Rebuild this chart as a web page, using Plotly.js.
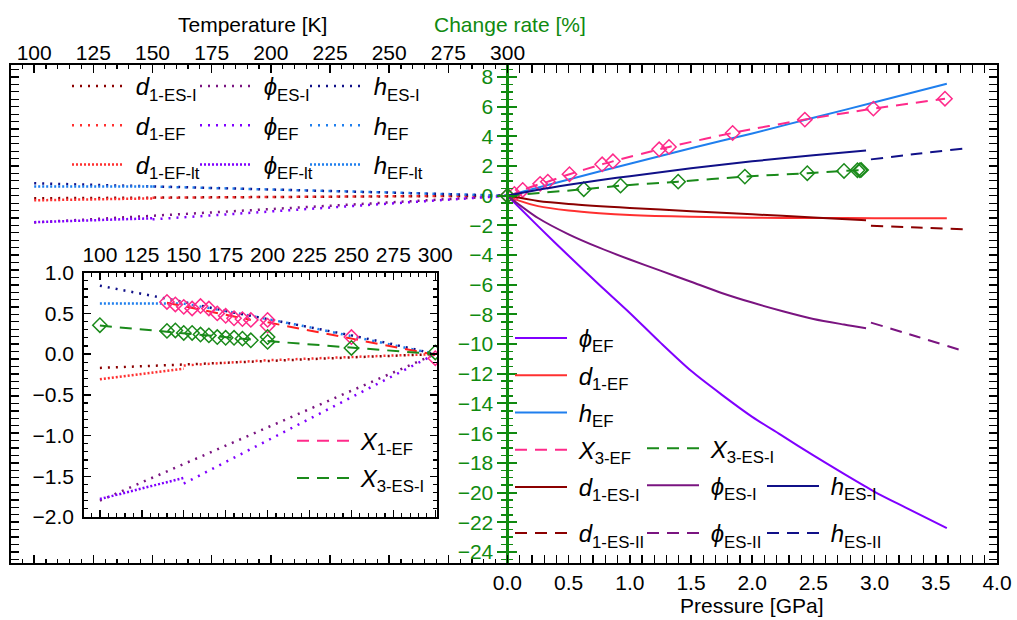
<!DOCTYPE html>
<html><head><meta charset="utf-8">
<script src="https://cdn.plot.ly/plotly-3.0.1.min.js"></script>
<style>html,body{margin:0;padding:0;background:#fff}</style>
</head><body><div id="chart" style="width:1017px;height:620px"></div>
<script>
// ===== Temperature-dependent change rates (T in K, value in %) =====
const T_d1ES1 = [100,150,200,250,300];
const V_d1ES1 = [-0.17,-0.13,-0.085,-0.04,0];
const T_d1EF = [150,200,250,300];
const V_d1EF = [-0.14,-0.075,-0.035,0];
const T_d1EFlt = [100,150];
const V_d1EFlt = [-0.31,-0.18];
const T_phiES1 = [100,150,200,250,300];
const V_phiES1 = [-1.8,-1.35,-0.9,-0.45,0];
const T_phiEF = [150,200,250,300];
const V_phiEF = [-1.59,-1.06,-0.53,0];
const T_phiEFlt = [100,150];
const V_phiEFlt = [-1.78,-1.52];
const T_hES1 = [100,125,150,175,200,225,250,275,300];
const V_hES1 = [0.84,0.74,0.64,0.53,0.43,0.33,0.23,0.12,0];
const T_hEF = [150,175,200,225,250,275,300];
const V_hEF = [0.62,0.53,0.43,0.33,0.22,0.11,0];
const T_hEFlt = [100,150];
const V_hEFlt = [0.62,0.62];
// inset markers and fits
const T_X1EF = [140,145,150,155,160,165,170,175,180,185,190,200,200,250,300];
const V_X1EF = [0.64,0.61,0.58,0.56,0.59,0.56,0.50,0.47,0.44,0.43,0.42,0.42,0.35,0.21,-0.05];
const T_X1EFfit = [140,190,null,200,300];
const V_X1EFfit = [0.63,0.42,null,0.39,-0.01];
const T_X3ES1 = [100,140,145,150,155,160,165,170,175,180,185,190,200,200,250,300];
const V_X3ES1 = [0.355,0.285,0.29,0.26,0.26,0.24,0.23,0.21,0.20,0.20,0.19,0.17,0.21,0.15,0.076,0.02];
const T_X3ES1fit = [100,190,null,200,300];
const V_X3ES1fit = [0.35,0.18,null,0.16,0.0];

// ===== Pressure-dependent change rates (P in GPa, value in %) =====
const P_phiEF = [0,0.25,0.5,0.75,1.0,1.25,1.5,1.75,2.0,2.25,2.5,2.75,3.0,3.25,3.59];
const V_phiEF_P = [0,-2.05,-4.05,-6.0,-7.9,-9.9,-11.8,-13.4,-14.9,-16.2,-17.5,-18.75,-19.95,-21.0,-22.4];
const P_d1EF = [0,0.1,0.25,0.5,0.75,1.0,1.5,2.0,2.5,3.0,3.59];
const V_d1EF_P = [0,-0.35,-0.7,-1.0,-1.18,-1.3,-1.42,-1.48,-1.5,-1.51,-1.52];
const P_hEF = [0,0.5,1.0,1.5,2.0,2.5,3.0,3.59];
const V_hEF_P = [0,1.1,2.15,3.2,4.2,5.25,6.3,7.55];
const P_X3EF = [0,0.057,0.125,0.267,0.33,0.507,0.774,0.862,1.24,1.32,1.84,2.43,2.99,3.575];
const V_X3EF = [0,0.12,0.39,0.80,0.95,1.45,2.12,2.32,3.13,3.29,4.23,5.13,5.87,6.54];
const P_X3ES1 = [0,0.624,0.924,1.395,1.94,2.45,2.75,2.86,2.88,2.89];
const V_X3ES1_P = [0,0.44,0.68,0.95,1.29,1.52,1.67,1.72,1.72,1.74];
const P_d1ES1 = [0,0.25,0.5,1.0,1.5,2.0,2.5,2.93];
const V_d1ES1_P = [0,-0.35,-0.55,-0.82,-1.04,-1.25,-1.46,-1.65];
const P_d1ES2 = [2.97,3.35,3.72];
const V_d1ES2 = [-2.02,-2.14,-2.26];
const P_phiES1 = [0,0.25,0.5,0.75,1.0,1.25,1.5,1.75,2.0,2.25,2.5,2.75,2.93];
const V_phiES1_P = [0,-1.5,-2.6,-3.5,-4.3,-5.05,-5.8,-6.55,-7.2,-7.78,-8.3,-8.68,-8.93];
const P_phiES2 = [2.97,3.35,3.72];
const V_phiES2 = [-8.55,-9.5,-10.45];
const P_hES1 = [0,0.25,0.5,0.75,1.0,1.5,2.0,2.5,2.93];
const V_hES1_P = [0,0.4,0.74,1.05,1.32,1.85,2.32,2.72,3.05];
const P_hES2 = [2.97,3.35,3.72];
const V_hES2 = [2.45,2.83,3.17];

// ===== Tick labels =====
const P_TICKS = [0,0.5,1,1.5,2,2.5,3,3.5,4];
const P_LABELS = ['0.0','0.5','1.0','1.5','2.0','2.5','3.0','3.5','4.0'];
const T_TICKS = [100,125,150,175,200,225,250,275,300];
const Y_TICKS = [-24,-22,-20,-18,-16,-14,-12,-10,-8,-6,-4,-2,0,2,4,6,8];
const YIN_TICKS = [-2,-1.5,-1,-0.5,0,0.5,1];
const YIN_LABELS = ['\u22122.0','\u22121.5','\u22121.0','\u22120.5','0.0','0.5','1.0'];

// colours
const C = {d1ES:'#8b0000', d1EF:'#ff3030', phiEF:'#8000ff', phiES:'#7a1480',
           hES:'#101088', hEF:'#1f7fee', X3EF:'#ff2a8a', X3ES:'#1a8a1a', X1fit:'#ff2020', green:'#108a10'};
const FONT = 'Liberation Sans, Arial, sans-serif';
const DOT = '2px,6px', DENSE = '2px,2px', DASH = '12px,8px';

function range(a,b,s,skip){const r=[];for(let v=a;v<=b+1e-9;v+=s){const q=Math.round(v*1000)/1000; if(!skip||Math.abs(q/skip-Math.round(q/skip))>1e-6) r.push(q);}return r;}

const traces = [];
function L(x,y,xa,ya,color,dash,width,o){
  traces.push(Object.assign({type:'scatter',mode:'lines',x:x,y:y,xaxis:xa,yaxis:ya,
    line:{color:color,dash:dash,width:width},hoverinfo:'skip',showlegend:false},o||{}));
}
function S(x,y,color,dash,o){ // smooth pressure curve
  L(x,y,'x','y',color,dash,2,o);
  traces[traces.length-1].line.shape='spline';
  traces[traces.length-1].line.smoothing=0.8;
}
function M(x,y,xa,ya,color){
  traces.push({type:'scatter',mode:'markers',x:x,y:y,xaxis:xa,yaxis:ya,hoverinfo:'skip',showlegend:false,
    marker:{symbol:'diamond-open',size:11,color:color,line:{color:color,width:1.5}}});
}
const SP = '\u00a0';
const nm = {
  d1ES1:'<i>d</i><sub>1-ES-I</sub>', d1EF:'<i>d</i><sub>1-EF</sub>', d1EFlt:'<i>d</i><sub>1-EF-lt</sub>',
  phiES1:'<i>\u03D5</i><sub>ES-I</sub>', phiEF:'<i>\u03D5</i><sub>EF</sub>', phiEFlt:'<i>\u03D5</i><sub>EF-lt</sub>',
  hES1:'<i>h</i><sub>ES-I</sub>', hEF:'<i>h</i><sub>EF</sub>', hEFlt:'<i>h</i><sub>EF-lt</sub>',
  X3EF:'<i>X</i><sub>3-EF</sub>', X3ES1:'<i>X</i><sub>3-ES-I</sub>', X1EF:'<i>X</i><sub>1-EF</sub>',
  d1ES2:'<i>d</i><sub>1-ES-II</sub>', phiES2:'<i>\u03D5</i><sub>ES-II</sub>', hES2:'<i>h</i><sub>ES-II</sub>'
};
function leg(key,legend,rank){return {name:SP+nm[key],showlegend:true,legend:legend,legendrank:rank,legendgroup:legend+key};}

// ---- main plot, temperature part (xaxis2 / y) ----
const tempSeries = [
  [T_d1ES1,V_d1ES1,C.d1ES,DOT,'d1ES1','legend',1],
  [T_d1EF,V_d1EF,C.d1EF,DOT,'d1EF','legend',2],
  [T_d1EFlt,V_d1EFlt,C.d1EF,DENSE,'d1EFlt','legend',3],
  [T_phiES1,V_phiES1,C.phiES,DOT,'phiES1','legend2',1],
  [T_phiEF,V_phiEF,C.phiEF,DOT,'phiEF','legend2',2],
  [T_phiEFlt,V_phiEFlt,C.phiEF,DENSE,'phiEFlt','legend2',3],
  [T_hES1,V_hES1,C.hES,DOT,'hES1','legend3',1],
  [T_hEF,V_hEF,C.hEF,DOT,'hEF','legend3',2],
  [T_hEFlt,V_hEFlt,C.hEF,DENSE,'hEFlt','legend3',3]
];
tempSeries.forEach(s=>L(s[0],s[1],'x2','y',s[2],s[3],2.5,leg(s[4],s[5],s[6])));
// inset copies
tempSeries.forEach(s=>L(s[0],s[1],'x3','y4',s[2],s[3],2.5));
L(T_X1EFfit,V_X1EFfit,'x3','y4',C.X1fit,DASH,2);
M(T_X1EF,V_X1EF,'x3','y4',C.X3EF);
L([null],[null],'x3','y4',C.X3EF,DASH,2,leg('X1EF','legend7',1));
L(T_X3ES1fit,V_X3ES1fit,'x3','y4',C.X3ES,DASH,2,leg('X3ES1','legend7',2));
M(T_X3ES1,V_X3ES1,'x3','y4',C.X3ES);

// ---- main plot, pressure part (x / y) ----
S(P_phiEF,V_phiEF_P,C.phiEF,'solid',leg('phiEF','legend4',1));
S(P_d1EF,V_d1EF_P,C.d1EF,'solid',leg('d1EF','legend4',2));
S(P_hEF,V_hEF_P,C.hEF,'solid',leg('hEF','legend4',3));
S(P_X3EF,V_X3EF,C.X3EF,DASH,leg('X3EF','legend4',4));
M(P_X3EF,V_X3EF,'x','y',C.X3EF);
S(P_d1ES1,V_d1ES1_P,C.d1ES,'solid',leg('d1ES1','legend4',5));
S(P_d1ES2,V_d1ES2,C.d1ES,DASH,leg('d1ES2','legend8',1));
S(P_X3ES1,V_X3ES1_P,C.X3ES,DASH,leg('X3ES1','legend5',1));
M(P_X3ES1,V_X3ES1_P,'x','y',C.X3ES);
S(P_phiES1,V_phiES1_P,C.phiES,'solid',leg('phiES1','legend5',2));
S(P_phiES2,V_phiES2,C.phiES,DASH,leg('phiES2','legend9',1));
S(P_hES1,V_hES1_P,C.hES,'solid',leg('hES1','legend6',1));
S(P_hES2,V_hES2,C.hES,DASH,leg('hES2','legend10',1));
// empty traces so the green change-rate axes are drawn
traces.push({type:'scatter',mode:'lines',x:[null],y:[null],xaxis:'x',yaxis:'y2',showlegend:false,hoverinfo:'skip'});
traces.push({type:'scatter',mode:'lines',x:[null],y:[null],xaxis:'x',yaxis:'y3',showlegend:false,hoverinfo:'skip'});

const tickFont = {family:FONT,size:21,color:'#000'};
const frame = {showline:true,linecolor:'#000',linewidth:2,mirror:'allticks',ticks:'inside',
  tickcolor:'#000',tickwidth:1.5,showgrid:false,zeroline:false};

function legendCfg(x,y,gap){return {x:x,y:y,xanchor:'left',yanchor:'top',bgcolor:'rgba(0,0,0,0)',
  font:{family:FONT,size:24,color:'#000'},traceorder:'grouped',tracegroupgap:(gap===undefined?3:gap),itemwidth:52};}

const px2x = p => (p-11)/986, px2y = p => (563-p)/498;

const layout = {
  width:1017,height:620,margin:{l:11,r:20,t:65,b:57},
  paper_bgcolor:'#fff',plot_bgcolor:'#fff',font:{family:FONT,size:21,color:'#000'},
  xaxis:Object.assign({},frame,{domain:[0,1],range:[-4.056,4.0],anchor:'y',side:'bottom',
    tickmode:'array',tickvals:P_TICKS,ticktext:P_LABELS,ticklen:8,tickfont:tickFont,
    minor:{tickmode:'array',tickvals:range(0.1,3.9,0.1,0.5),ticklen:4,ticks:'inside',tickcolor:'#000',tickwidth:1.2}}),
  xaxis2:Object.assign({},frame,{overlaying:'x',range:[90.2,506.8],anchor:'y',side:'top',
    tickmode:'array',tickvals:T_TICKS,ticktext:T_TICKS.map(String),ticklen:8,tickfont:tickFont,ticklabelstandoff:-5,
    minor:{tickmode:'array',tickvals:range(95,295,5,25),ticklen:4,ticks:'inside',tickcolor:'#000',tickwidth:1.2}}),
  yaxis:Object.assign({},frame,{domain:[0,1],range:[-24.75,8.81],anchor:'x',
    tickmode:'array',tickvals:Y_TICKS,showticklabels:false,ticklen:8,
    minor:{tickmode:'array',tickvals:range(-24.5,8.5,0.5,2),ticklen:4,ticks:'inside',tickcolor:'#000',tickwidth:1.2}}),
  yaxis2:{overlaying:'y',anchor:'free',position:0.5035,side:'left',range:[-24.75,8.81],
    showline:true,linecolor:C.green,linewidth:2.5,ticks:'outside',tickcolor:C.green,tickwidth:2,ticklen:9,
    tickmode:'array',tickvals:Y_TICKS,ticktext:Y_TICKS.map(v=>v<0?'\u2212'+(-v):String(v)),
    tickfont:{family:FONT,size:21,color:C.green},showgrid:false,zeroline:false,
    minor:{tickmode:'array',tickvals:range(-24.5,8.5,0.5,2),ticklen:5,ticks:'outside',tickcolor:C.green,tickwidth:1.5}},
  yaxis3:{overlaying:'y',anchor:'free',position:0.5035,side:'left',range:[-24.75,8.81],
    showline:false,ticks:'inside',tickcolor:C.green,tickwidth:2,ticklen:9,showticklabels:false,
    tickmode:'array',tickvals:Y_TICKS,showgrid:false,zeroline:false,
    minor:{tickmode:'array',tickvals:range(-24.5,8.5,0.5,2),ticklen:5,ticks:'inside',tickcolor:C.green,tickwidth:1.5}},
  xaxis3:Object.assign({},frame,{domain:[0.074,0.432],range:[90.5,301],anchor:'y4',side:'top',linewidth:1.8,
    tickmode:'array',tickvals:T_TICKS,ticktext:T_TICKS.map(String),ticklen:7,tickfont:tickFont,
    minor:{tickmode:'array',tickvals:range(95,295,5,25),ticklen:4,ticks:'inside',tickcolor:'#000',tickwidth:1.2}}),
  yaxis4:Object.assign({},frame,{domain:[0.0924,0.583],range:[-2,1],anchor:'x3',side:'left',linewidth:1.8,
    tickmode:'array',tickvals:YIN_TICKS,ticktext:YIN_LABELS,ticklen:7,tickfont:tickFont,ticklabelstandoff:4,
    minor:{tickmode:'array',tickvals:range(-1.9,0.9,0.1,0.5),ticklen:4,ticks:'inside',tickcolor:'#000',tickwidth:1.2}}),
  legend:legendCfg(px2x(67),px2y(64),5),
  legend2:legendCfg(px2x(195),px2y(64),5),
  legend3:legendCfg(px2x(305),px2y(64),5),
  legend4:legendCfg(px2x(510),0.496),
  legend5:legendCfg(px2x(642),0.275),
  legend6:legendCfg(px2x(762),0.199),
  legend7:legendCfg(px2x(292),0.290),
  legend8:legendCfg(px2x(510),px2y(511)),
  legend9:legendCfg(px2x(642),px2y(511)),
  legend10:legendCfg(px2x(762),px2y(511)),
  annotations:[
    {text:'Temperature [K]',xref:'paper',yref:'paper',x:px2x(252),y:px2y(24),xanchor:'center',yanchor:'middle',showarrow:false,font:{family:FONT,size:21,color:'#000'}},
    {text:'Change rate [%]',xref:'paper',yref:'paper',x:px2x(510),y:px2y(24),xanchor:'center',yanchor:'middle',showarrow:false,font:{family:FONT,size:21,color:C.green}},
    {text:'Pressure [GPa]',xref:'paper',yref:'paper',x:px2x(752),y:px2y(605),xanchor:'center',yanchor:'middle',showarrow:false,font:{family:FONT,size:21,color:'#000'}}
  ]
};

Plotly.newPlot('chart',traces,layout,{staticPlot:true,displayModeBar:false});
</script></body></html>
